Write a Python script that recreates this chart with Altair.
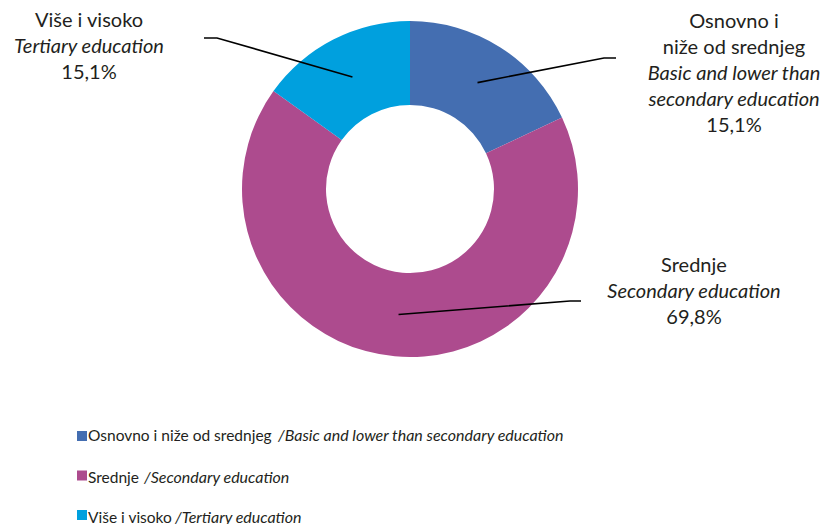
import math
import altair as alt
import pandas as pd

# ---------------- data ----------------
categories = ["Osnovno i niže od srednjeg", "Srednje", "Više i visoko"]
categories_en = ["Basic and lower than secondary education", "Secondary education", "Tertiary education"]
shares = [18.0, 66.9, 15.1]            # slice sizes as drawn
share_labels = ["15,1%", "69,8%", "15,1%"]  # printed labels
label_lines_sr = [["Osnovno i", "niže od srednjeg"], ["Srednje"], ["Više i visoko"]]
label_lines_en = [["Basic and lower than", "secondary education"], ["Secondary education"], ["Tertiary education"]]

# ---------------- style / layout ----------------
colors = ["#446EB1", "#AD4B8E", "#00A0DE"]
TEXT = "#231F20"
FONT = "Lato"
FS_LABEL = 20
FS_LEGEND = 15.5
FS_LEGEND_IT = 16
W, H = 812, 516
CX, CY = 402, 181
R_OUT, R_IN, R_ANCHOR = 168, 84, 126
LINE_H = 26
label_pos = [(726, 20), (686, 264), (81, 19)]  # centre x, first baseline
elbows = [((596, 50), (608, 50)), ((562, 293), (573, 293)), ((209, 30), (196, 30))]
legend_x_sq, legend_x_txt = 74, 80
legend_sq_y = [428, 467.5, 507]
legend_base_y = [433, 474.5, 514.5]
legend_italic_x = [270, 136, 167]

# ---------------- tables ----------------
slices = pd.DataFrame({"cat": categories, "share": shares, "idx": range(3)})

total = sum(shares)
line_rows = []
cum = 0.0
for i, s in enumerate(shares):
    mid = (cum + s / 2) / total * 2 * math.pi
    cum += s
    ax = CX + R_ANCHOR * math.sin(mid)
    ay = CY - R_ANCHOR * math.cos(mid)
    (ex, ey), (tx, ty) = elbows[i]
    line_rows += [
        {"cat": categories[i], "ord": 0, "x": ax, "y": ay},
        {"cat": categories[i], "ord": 1, "x": ex, "y": ey},
        {"cat": categories[i], "ord": 2, "x": tx, "y": ty},
    ]
lines = pd.DataFrame(line_rows)

text_rows = []
for i in range(3):
    x0, y0 = label_pos[i]
    k = 0
    for t in label_lines_sr[i]:
        text_rows.append({"x": x0, "y": y0 + k * LINE_H, "t": t, "it": 0}); k += 1
    for t in label_lines_en[i]:
        text_rows.append({"x": x0, "y": y0 + k * LINE_H, "t": t, "it": 1}); k += 1
    text_rows.append({"x": x0, "y": y0 + k * LINE_H, "t": share_labels[i], "it": 0})
labels = pd.DataFrame(text_rows)

leg_sq = pd.DataFrame({"cat": categories, "x": [legend_x_sq] * 3, "y": legend_sq_y})
leg_txt = pd.DataFrame(
    [{"x": legend_x_txt, "y": legend_base_y[i], "t": categories[i], "it": 0} for i in range(3)]
    + [{"x": legend_italic_x[i], "y": legend_base_y[i], "t": "/" + categories_en[i], "it": 1} for i in range(3)]
)

X = alt.X("x:Q", scale=None, axis=None)
Y = alt.Y("y:Q", scale=None, axis=None)
color_scale = alt.Scale(domain=categories, range=colors)

arc = alt.Chart(slices).mark_arc(innerRadius=R_IN, outerRadius=R_OUT).encode(
    theta=alt.Theta("share:Q", stack=True),
    color=alt.Color("cat:N", scale=color_scale, legend=None),
    order=alt.Order("idx:Q"),
    x=alt.value(CX),
    y=alt.value(CY),
)

leader = alt.Chart(lines).mark_line(color="black", strokeWidth=1.6).encode(
    x=X, y=Y, detail="cat:N", order="ord:Q"
)

def txt(df, italic, align, size):
    return alt.Chart(df).transform_filter(alt.datum.it == (1 if italic else 0)).mark_text(
        align=align, baseline="alphabetic", font=FONT, fontSize=size, color=TEXT,
        fontStyle="italic" if italic else "normal",
    ).encode(x=X, y=Y, text="t:N")

sq = alt.Chart(leg_sq).mark_square(size=100, opacity=1).encode(
    x=X, y=Y, color=alt.Color("cat:N", scale=color_scale, legend=None)
)

chart = alt.layer(
    arc, leader,
    txt(labels, False, "center", FS_LABEL), txt(labels, True, "center", FS_LABEL),
    sq, txt(leg_txt, False, "left", FS_LEGEND), txt(leg_txt, True, "left", FS_LEGEND_IT),
).properties(
    width=W, height=H, padding=0, autosize=alt.AutoSizeParams(type="none")
).configure_view(stroke=None)

chart.save("out.html", embed_options={"renderer": "svg", "actions": False})
